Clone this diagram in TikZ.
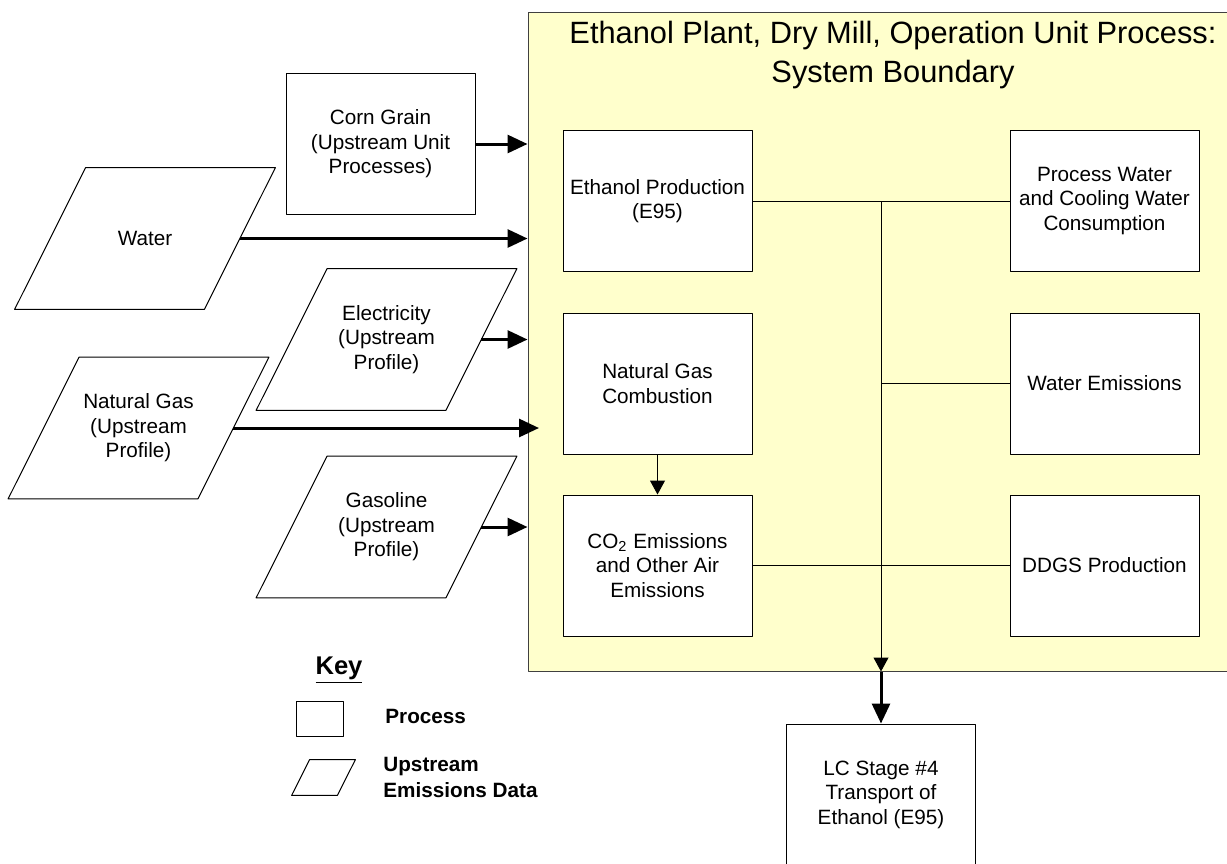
\documentclass[tikz,border=0pt]{standalone}
\usepackage{fontspec}
\setmainfont{Liberation Sans}
\usetikzlibrary{arrows.meta}

\definecolor{bndfill}{HTML}{FFFFCC}
\tikzset{
  procbox/.style={draw=black,fill=white,line width=0.5pt,minimum width=94.5pt,
    minimum height=70.5pt,inner sep=0pt,align=center,
    font=\fontsize{10.35}{12.25}\selectfont},
  updata/.style={minimum width=94.5pt,minimum height=70.5pt,inner sep=0pt,align=center,
    font=\fontsize{10.35}{12.25}\selectfont},
  flowthick/.style={line width=1.5pt,-{Triangle[length=10pt,width=9pt]}},
  flowthin/.style={line width=0.5pt,-{Triangle[length=7pt,width=7.5pt]}},
  link/.style={line width=0.5pt},
  keytext/.style={anchor=west,inner sep=0pt,align=left,
    font=\bfseries\fontsize{10.35}{13}\selectfont}
}
% slanted outline round an updata node: #1 node, #2 half of the slant
\newcommand{\upslant}[2]{%
  \draw[line width=0.5pt] ([xshift=#2]#1.north west) -- ([xshift=#2]#1.north east)
    -- ([xshift=-#2]#1.south east) -- ([xshift=-#2]#1.south west) -- cycle;}

\begin{document}
\begin{tikzpicture}[x=0.5pt,y=-0.5pt,join=round] % ethanol plant boundary
    \useasboundingbox (0,0) rectangle (1227,863);
    \node[draw=black!75,fill=bndfill,line width=0.5pt,minimum width=352pt,
          minimum height=329.5pt,inner sep=0pt] (bnd) at (880,341.5) {};
    \node[font=\fontsize{15.4}{19.5}\selectfont,align=center] (title) at (893,55)
          {Ethanol Plant, Dry Mill, Operation Unit Process:\\System Boundary};

    % inputs
    \node[procbox] (corn) at (380.5,144) {Corn Grain\\(Upstream Unit\\Processes)};
    \node[updata] (water) at (145,238.5) {Water};
    \node[updata] (elec) at (386.5,339.5) {Electricity\\(Upstream\\Profile)};
    \node[updata] (natgas) at (138.5,428) {Natural Gas\\(Upstream\\Profile)};
    \node[updata] (gasoline) at (386.5,527) {Gasoline\\(Upstream\\Profile)};
    \upslant{water}{17.75pt}
    \upslant{elec}{17.75pt}
    \upslant{natgas}{17.75pt}
    \upslant{gasoline}{17.75pt}

    % unit processes
    \node[procbox] (ethprod) at (657.5,201) {Ethanol Production\\(E95)};
    \node[procbox] (natcomb) at (657.5,383.5) {Natural Gas\\Combustion};
    \node[procbox] (co2) at (657.5,565.5) {CO\textsubscript{2} Emissions\\and Other Air\\Emissions};
    \node[procbox] (procwater) at (1104.5,201) {Process Water\\and Cooling Water\\Consumption};
    \node[procbox] (watem) at (1104.5,383.5) {Water Emissions};
    \node[procbox] (ddgs) at (1104.5,565.5) {DDGS Production};
    \node[procbox] (lcstage) at (881,794.5) {LC Stage \#4\\Transport of\\Ethanol (E95)};

    \coordinate (jn) at (881,201);
    \coordinate (ngtip) at (539,428);

    \draw[flowthick] (corn.east) -- (corn.east -| bnd.west);
    \draw[flowthick] (water.east) -- (water.east -| bnd.west);
    \draw[flowthick] (elec.east) -- (elec.east -| bnd.west);
    \draw[flowthick] (natgas.east) -- (ngtip);
    \draw[flowthick] (gasoline.east) -- (gasoline.east -| bnd.west);

    \draw[flowthin] (natcomb.south) -- (co2.north);
    \draw[link] (ethprod.east) -- (procwater.west);
    \draw[link] (jn |- watem.west) -- (watem.west);
    \draw[link] (co2.east) -- (ddgs.west);
    \draw[flowthin] (jn) -- (jn |- bnd.south);
    \draw[flowthick] (jn |- bnd.south) -- (lcstage.north);

    % key
    \node[font=\bfseries\fontsize{12.8}{14}\selectfont] (keyhead) at (339,670) {\underline{Key}};
    \node[procbox,minimum width=23.5pt,minimum height=17.5pt] (keyproc) at (319.5,718.5) {};
    \node[keytext] (keyproctext) at (385,716) {Process};
    \node[updata,minimum width=22.5pt,minimum height=17.5pt] (keyup) at (323.5,777.5) {};
    \upslant{keyup}{4.5pt}
    \node[keytext] (keyuptext) at (383,777) {Upstream\\Emissions Data};
\end{tikzpicture}
\end{document}
